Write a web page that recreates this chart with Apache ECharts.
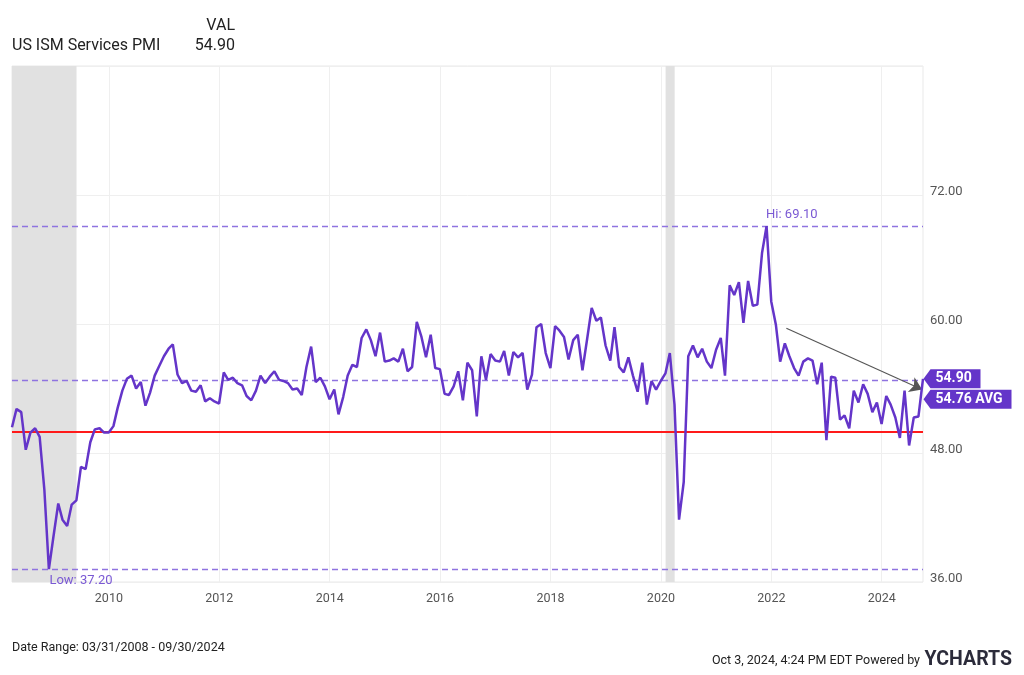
<!DOCTYPE html>
<html><head><meta charset="utf-8">
<script src="https://cdn.jsdelivr.net/npm/echarts@6/dist/echarts.min.js"></script>
<style>html,body{margin:0;padding:0;background:#fff}#c{width:1024px;height:675px}</style>
</head><body><div id="c"></div>
<script>
// ---------------- DATA ----------------
const seriesName = 'US ISM Services PMI';
const startYear = 2008, startMonth = 3;   // first observation: Mar 2008 (month-end)
const pmiValues = [
  50.4, 52.1, 51.8, 48.3, 49.9, 50.3, 49.5, 44.6, 37.2, 40.3,                 // 2008 Mar-Dec
  43.3, 41.8, 41.2, 43.2, 43.6, 46.7, 46.5, 49.0, 50.2, 50.3, 49.9, 49.9,     // 2009
  50.5, 52.2, 53.8, 54.9, 55.2, 54.0, 54.6, 52.4, 53.6, 55.2, 56.1, 57.0,     // 2010
  57.7, 58.1, 55.3, 54.5, 54.7, 53.8, 53.7, 54.3, 52.8, 53.1, 52.8, 52.6,     // 2011
  55.5, 54.8, 55.0, 54.5, 54.3, 53.3, 52.9, 53.8, 55.2, 54.5, 55.1, 55.6,     // 2012
  54.8, 54.7, 54.5, 53.9, 54.0, 53.4, 56.0, 57.9, 54.6, 55.0, 54.2, 53.0,     // 2013
  53.9, 51.6, 53.2, 55.2, 56.2, 56.0, 58.7, 59.5, 58.5, 57.0, 59.2, 56.5,     // 2014
  56.6, 56.8, 56.5, 57.7, 55.6, 56.0, 60.2, 58.8, 56.9, 59.0, 55.9, 55.8,     // 2015
  53.5, 53.4, 54.2, 55.6, 52.9, 56.4, 55.7, 51.4, 57.0, 54.8, 57.2, 56.6,     // 2016
  56.5, 57.5, 55.2, 57.4, 56.9, 57.3, 53.9, 55.3, 59.7, 60.0, 57.3, 55.9,     // 2017
  59.8, 59.4, 58.8, 56.7, 58.5, 59.0, 55.7, 58.6, 61.5, 60.3, 60.6, 58.0,     // 2018
  56.6, 59.7, 56.0, 55.5, 56.9, 55.2, 53.7, 56.4, 52.5, 54.7, 53.9, 54.7,     // 2019
  55.4, 57.3, 52.5, 41.8, 45.3, 57.0, 58.0, 56.9, 57.7, 56.5, 55.9, 57.6,     // 2020
  58.7, 55.2, 63.6, 62.7, 63.9, 60.1, 64.0, 61.7, 61.8, 66.6, 69.1, 62.1,     // 2021
  59.9, 56.5, 58.2, 57.0, 55.9, 55.2, 56.5, 56.8, 56.6, 54.4, 56.4, 49.2,     // 2022
  55.1, 55.0, 51.1, 51.5, 50.3, 53.8, 52.7, 54.4, 53.5, 51.8, 52.7, 50.7,     // 2023
  53.3, 52.5, 51.3, 49.4, 53.8, 48.7, 51.3, 51.4, 54.9                        // 2024 Jan-Sep
];
const avgValue = 54.76;
const thresholdValue = 50;
const tickYears = [2010, 2012, 2014, 2016, 2018, 2020, 2022, 2024];
const yMin = 36, yMax = 84, yInterval = 12;
const recessions = [['2008-03-31', '2009-06-01'], ['2020-02-01', '2020-04-01']];
const arrowStart = ['2022-04-10', 59.6];
const arrowEnd = ['2024-09-24', 53.9];
const dateRangeText = 'Date Range: 03/31/2008 - 09/30/2024';
const stampText = 'Oct 3, 2024, 4:24 PM EDT Powered by';

// ---------------- BUILD ----------------
function pad(n){ return (n < 10 ? '0' : '') + n; }
function ts(s){ const p = s.split('-').map(Number); return new Date(p[0], p[1]-1, p[2]).getTime(); }
const dates = pmiValues.map((_, i) => {
  const k = startMonth - 1 + i;
  const y = startYear + Math.floor(k / 12), m = k % 12 + 1;
  const last = new Date(y, m, 0).getDate();
  return ts(y + '-' + pad(m) + '-' + pad(last));
});
const data = dates.map((d, i) => [d, pmiValues[i]]);
const xMin = dates[0], xMax = dates[dates.length - 1];
let hiIdx = 0, loIdx = 0;
pmiValues.forEach((v, i) => { if (v > pmiValues[hiIdx]) hiIdx = i; if (v < pmiValues[loIdx]) loIdx = i; });
const hiValue = pmiValues[hiIdx], loValue = pmiValues[loIdx];
const lastValue = pmiValues[pmiValues.length - 1];
const tickTimes = tickYears.map(y => new Date(y, 0, 1).getTime());

const LINE = '#6435c9', LABEL = '#7a59d4', DASH = '#8f73e0';
const FONT = 'Roboto, "Noto Sans", sans-serif';

const chart = echarts.init(document.getElementById('c'), null, { renderer: 'canvas' });
const option = {
  animation: false,
  backgroundColor: '#fff',
  textStyle: { fontFamily: FONT },
  grid: { left: 12, right: 101, top: 66, bottom: 93, show: true, borderColor: '#e9e9e9', borderWidth: 1 },
  xAxis: {
    type: 'value', min: xMin, max: xMax, scale: true,
    axisLine: { show: false }, axisTick: { show: false }, splitLine: { show: false },
    axisLabel: {
      customValues: tickTimes, color: '#555', fontSize: 12.5, margin: 10, fontFamily: FONT,
      formatter: v => String(new Date(v).getFullYear())
    }
  },
  yAxis: {
    type: 'value', position: 'right', min: yMin, max: yMax, interval: yInterval,
    axisLine: { show: false }, axisTick: { show: false },
    splitLine: { show: true, lineStyle: { color: '#efefef', width: 1 } },
    axisLabel: {
      color: '#555', fontSize: 13, margin: 7, fontFamily: FONT, verticalAlign: 'bottom', lineHeight: 6,
      formatter: v => (v >= yMax ? '' : v.toFixed(2))
    }
  },
  series: [
    { // recession shading + vertical year grid
      type: 'line', data: [], silent: true, z: 1,
      markArea: {
        silent: true, itemStyle: { color: '#e1e1e1' },
        data: recessions.map(r => [{ xAxis: ts(r[0]) }, { xAxis: ts(r[1]) }])
      },
      markLine: {
        silent: true, symbol: ['none', 'none'], label: { show: false },
        lineStyle: { color: '#efefef', width: 1, type: 'solid' },
        data: tickTimes.map(t => ({ xAxis: t }))
      }
    },
    { // reference lines
      type: 'line', data: [], silent: true, z: 2,
      markLine: {
        silent: true, symbol: ['none', 'none'], label: { show: false },
        data: [
          { yAxis: hiValue, lineStyle: { color: DASH, width: 1.4, type: [6, 4] } },
          { yAxis: loValue, lineStyle: { color: DASH, width: 1.4, type: [6, 4] } },
          { yAxis: avgValue, lineStyle: { color: DASH, width: 1.4, type: [6, 4] } },
          { yAxis: thresholdValue, lineStyle: { color: '#ff1a1a', width: 1.8, type: 'solid' } }
        ]
      }
    },
    {
      name: seriesName, type: 'line', data: data, z: 5,
      showSymbol: false, symbol: 'none', smooth: false,
      lineStyle: { color: LINE, width: 2.5 },
      markPoint: {
        silent: true, symbol: 'circle', symbolSize: 1, itemStyle: { color: 'rgba(0,0,0,0)' },
        data: [
          { coord: [dates[hiIdx], hiValue], label: { show: true, formatter: 'Hi: ' + hiValue.toFixed(2), position: [0, -4], align: 'left', verticalAlign: 'bottom', color: LABEL, fontSize: 13, fontFamily: FONT } },
          { coord: [dates[loIdx], loValue], label: { show: true, formatter: 'Low: ' + loValue.toFixed(2), position: [1, 6], align: 'left', verticalAlign: 'top', color: LABEL, fontSize: 13, fontFamily: FONT } }
        ]
      }
    },
    { // trend arrow annotation
      type: 'line', data: [], silent: true, z: 6,
      markLine: {
        silent: true, label: { show: false }, symbol: ['none', 'arrow'], symbolSize: 12,
        lineStyle: { color: '#555', width: 1.1, type: 'solid' },
        data: [[
          { coord: [ts(arrowStart[0]), arrowStart[1]], symbol: 'none' },
          { coord: [ts(arrowEnd[0]), arrowEnd[1]], symbol: 'arrow', symbolSize: 12, itemStyle: { color: '#3a3a3a' } }
        ]]
      }
    }
  ]
};
chart.setOption(option);

// badges, header, footer
const pLast = chart.convertToPixel({ xAxisIndex: 0, yAxisIndex: 0 }, [xMax, lastValue]);
const pAvg = chart.convertToPixel({ xAxisIndex: 0, yAxisIndex: 0 }, [xMax, avgValue]);
function badge(x0, yc, w, text){
  return {
    type: 'group', z: 100,
    children: [
      { type: 'polygon', shape: { points: [[x0, yc], [x0 + 7, yc - 9.5], [x0 + w, yc - 9.5], [x0 + w, yc + 9.5], [x0 + 7, yc + 9.5]] }, style: { fill: LINE } },
      { type: 'text', x: x0 + 12, y: yc, style: { text: text, fill: '#fff', font: 'bold 14px ' + FONT, verticalAlign: 'middle', align: 'left' } }
    ]
  };
}
const bx = pLast[0] + 0.5;
chart.setOption({
  graphic: [
    { type: 'text', right: 1024 - 235, top: 18, style: { text: 'VAL', fill: '#222', font: '16px ' + FONT } },
    { type: 'text', left: 12, top: 38, style: { text: seriesName, fill: '#222', font: '16px ' + FONT } },
    { type: 'text', right: 1024 - 235, top: 38, style: { text: lastValue.toFixed(2), fill: '#222', font: '16px ' + FONT } },
    badge(bx, pLast[1], 57, lastValue.toFixed(2)),
    badge(bx, pAvg[1] + 19, 88, avgValue.toFixed(2) + ' AVG'),
    { type: 'text', left: 12, top: 641, style: { text: dateRangeText, fill: '#222', font: '12.5px ' + FONT } },
    { type: 'text', right: 104, top: 654, style: { text: stampText, fill: '#222', font: '12.5px ' + FONT } },
    { type: 'text', right: 12, top: 650, style: { text: 'YCHARTS', fill: '#2b2b3a', font: 'bold 19.5px ' + FONT } }
  ]
});
</script></body></html>
